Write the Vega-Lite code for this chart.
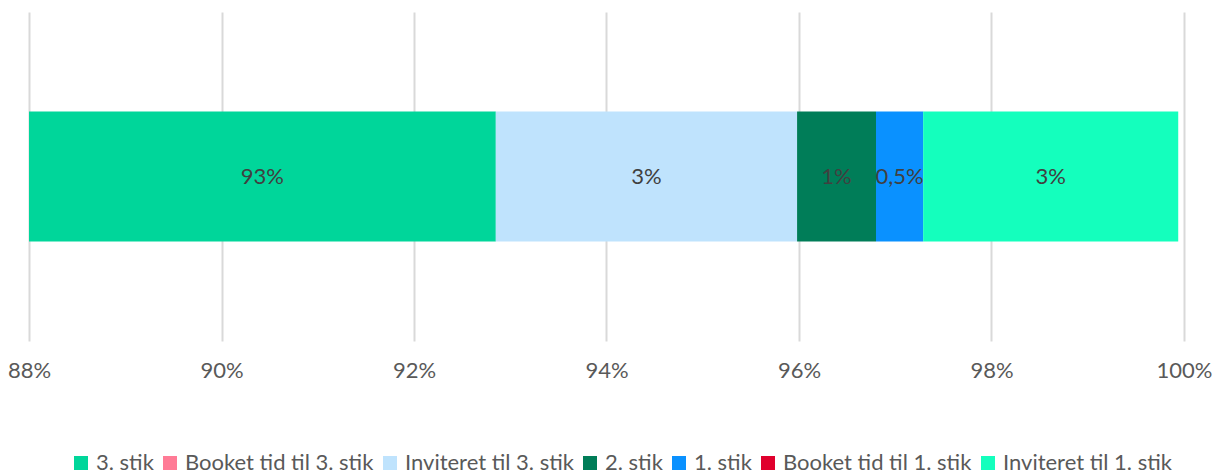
{
  "$schema": "https://vega.github.io/schema/vega-lite/v6.json",
  "width": 1155,
  "height": 329,
  "autosize": {"type": "none"},
  "padding": {"left": 29, "top": 12, "right": 30, "bottom": 134},
  "background": "white",
  "config": {
    "view": {"stroke": null},
    "font": "Lato"
  },
  "data": {
    "values": [
      {"kategori": "3. stik", "andel": 0.9285, "ord": 1, "etiket": "93%"},
      {"kategori": "Booket tid til 3. stik", "andel": 0.0, "ord": 2, "etiket": ""},
      {"kategori": "Inviteret til 3. stik", "andel": 0.0313, "ord": 3, "etiket": "3%"},
      {"kategori": "2. stik", "andel": 0.0082, "ord": 4, "etiket": "1%"},
      {"kategori": "1. stik", "andel": 0.0049, "ord": 5, "etiket": "0,5%"},
      {"kategori": "Booket tid til 1. stik", "andel": 0.0, "ord": 6, "etiket": ""},
      {"kategori": "Inviteret til 1. stik", "andel": 0.0265, "ord": 7, "etiket": "3%"}
    ]
  },
  "transform": [
    {"stack": "andel", "groupby": [], "sort": [{"field": "ord", "order": "ascending"}], "as": ["x0", "x1"]},
    {"calculate": "(max(datum.x0, 0.88) + datum.x1) / 2", "as": "xmid"}
  ],
  "layer": [
    {
      "mark": {"type": "bar", "size": 130, "clip": true},
      "encoding": {
        "x": {
          "field": "x0",
          "type": "quantitative",
          "scale": {"domain": [0.88, 1.0], "nice": false, "zero": false},
          "axis": {
            "format": ".0%",
            "values": [0.88, 0.90, 0.92, 0.94, 0.96, 0.98, 1.0],
            "domain": false,
            "ticks": false,
            "grid": true,
            "gridColor": "#d9d9d9",
            "gridWidth": 2,
            "labelFontSize": 22,
            "labelColor": "#595959",
            "labelPadding": 19,
            "labelFont": "Lato",
            "labelFlush": false,
            "labelOverlap": false,
            "title": null
          }
        },
        "x2": {"field": "x1"},
        "color": {
          "field": "kategori",
          "type": "nominal",
          "scale": {
            "domain": ["3. stik", "Booket tid til 3. stik", "Inviteret til 3. stik", "2. stik", "1. stik", "Booket tid til 1. stik", "Inviteret til 1. stik"],
            "range": ["#00D69A", "#FF7B96", "#BFE3FD", "#007D58", "#0A91FF", "#E0002D", "#14FFBD"]
          },
          "legend": {
            "orient": "none",
            "legendX": 41,
            "legendY": 440,
            "direction": "horizontal",
            "title": null,
            "padding": 0,
            "symbolType": "square",
            "symbolSize": 196,
            "symbolStrokeWidth": 0,
            "labelFontSize": 22,
            "labelColor": "#595959",
            "labelFont": "Lato",
            "labelLimit": 0,
            "columnPadding": 5,
            "labelOffset": 4
          }
        },
        "order": {"field": "ord", "type": "quantitative"}
      }
    },
    {
      "transform": [{"filter": "datum.etiket != ''"}],
      "mark": {"type": "text", "fontSize": 22, "color": "#404040", "baseline": "middle", "align": "center", "font": "Lato"},
      "encoding": {
        "x": {"field": "xmid", "type": "quantitative"},
        "text": {"field": "etiket", "type": "nominal"}
      }
    }
  ]
}
